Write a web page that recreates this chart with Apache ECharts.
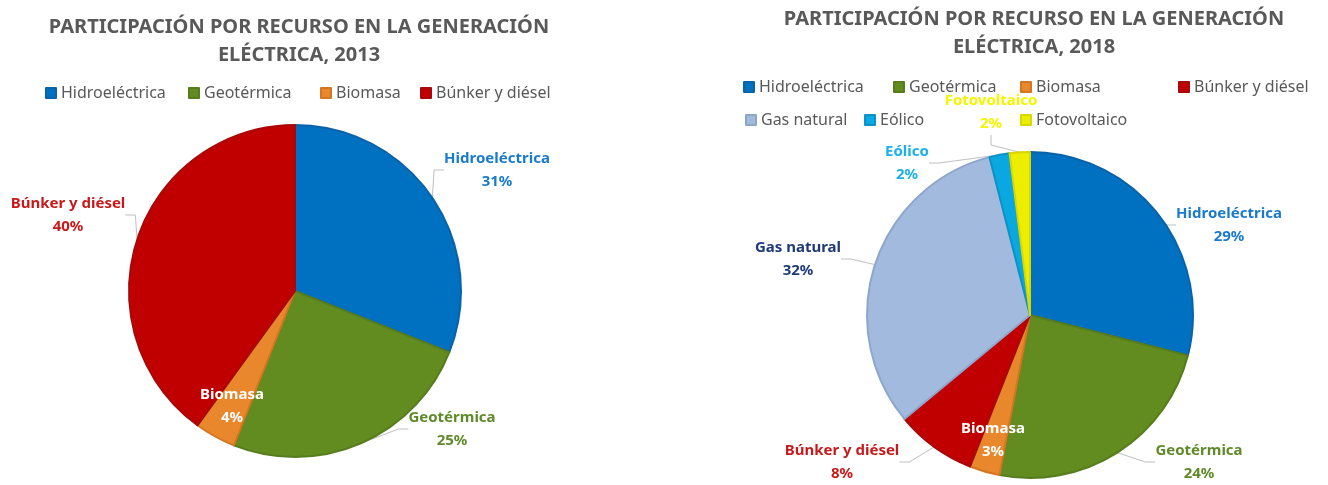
<!DOCTYPE html>
<html>
<head>
<meta charset="utf-8">
<script src="https://cdn.jsdelivr.net/npm/echarts@6/dist/echarts.min.js"></script>
<style>
  html, body { margin: 0; padding: 0; background: #fff; }
  #chart { width: 1328px; height: 485px; }
</style>
</head>
<body>
<div id="chart"></div>
<script>
// datos (porcentajes de participación)
const recursos2013 = ["Hidroeléctrica", "Geotérmica", "Biomasa", "Búnker y diésel"];
const valores2013 = [31, 25, 4, 40];

const recursos2018 = ["Hidroeléctrica", "Geotérmica", "Biomasa", "Búnker y diésel", "Gas natural", "Eólico", "Fotovoltaico"];
const valores2018 = [29, 24, 3, 8, 32, 2, 2];

const titulo2013 = "PARTICIPACIÓN POR RECURSO EN LA GENERACIÓN\nELÉCTRICA, 2013";
const titulo2018 = "PARTICIPACIÓN POR RECURSO EN LA GENERACIÓN\nELÉCTRICA, 2018";

// estilos por recurso
const colores = {
  "Hidroeléctrica": "#0070C0",
  "Geotérmica": "#628B20",
  "Biomasa": "#E8872C",
  "Búnker y diésel": "#C00000",
  "Gas natural": "#A3BADF",
  "Eólico": "#0AA8E0",
  "Fotovoltaico": "#EDED00"
};
const bordes = {
  "Hidroeléctrica": "#0A62A8",
  "Geotérmica": "#577C1C",
  "Biomasa": "#D47722",
  "Búnker y diésel": "#A80808",
  "Gas natural": "#8EA6CC",
  "Eólico": "#0B93C6",
  "Fotovoltaico": "#D8D800"
};
const coloresEtiqueta = {
  "Hidroeléctrica": "#1B7BCB",
  "Geotérmica": "#5F8A2A",
  "Biomasa": "#ffffff",
  "Búnker y diésel": "#C81A1A",
  "Gas natural": "#1E3A78",
  "Eólico": "#1AB0E8",
  "Fotovoltaico": "#F5F500"
};

// posición de las etiquetas (centro del bloque de texto)
const etiquetas2013 = [[497, 170], [452, 429], [232, 406], [68, 215]];
const etiquetas2018 = [[1229, 225], [1199, 462], [993, 440], [842, 462], [798, 259], [907, 163], [991, 112]];

// posición de cada elemento de leyenda
const leyenda2013 = [[45, 85], [188, 85], [320, 85], [420, 85]];
const leyenda2018 = [[743, 79], [893, 79], [1020, 79], [1178, 79], [745, 112], [864, 112], [1020, 112]];

const fuente = "'Noto Sans', sans-serif";

const armarDatos = (nombres, valores) =>
  nombres.map((n, i) => ({
    name: n,
    value: valores[i],
    itemStyle: { color: colores[n], borderColor: bordes[n], borderWidth: 2 },
    label: { color: coloresEtiqueta[n] },
    labelLine: { show: n !== "Biomasa" }
  }));

const estiloTitulo = {
  fontFamily: fuente,
  fontWeight: "bold",
  fontSize: 20,
  color: "#595959",
  lineHeight: 28
};

const estiloLeyenda = {
  fontFamily: fuente,
  fontSize: 16,
  color: "#595959"
};

const armarLeyendas = (nombres, pos) =>
  nombres.map((n, i) => ({
    data: [n],
    left: pos[i][0],
    top: pos[i][1],
    padding: 0,
    itemWidth: 10,
    itemHeight: 10,
    icon: "rect",
    textStyle: estiloLeyenda,
    selectedMode: false
  }));

const serieBase = {
  type: "pie",
  startAngle: 90,
  clockwise: true,
  label: {
    show: true,
    position: "outside",
    formatter: "{b}\n{c}%",
    fontFamily: fuente,
    fontWeight: "bold",
    fontSize: 15,
    lineHeight: 23,
    align: "center",
    overflow: "none"
  },
  labelLine: {
    show: true,
    length: 10,
    length2: 10,
    lineStyle: { color: "#BFBFBF", width: 1 }
  },
  emphasis: { disabled: true },
  animation: false
};

const chartDom = document.getElementById("chart");
const chart = echarts.init(chartDom);

const option = {
  backgroundColor: "#ffffff",
  title: [
    { text: titulo2013, left: 294, top: 8, textAlign: "center", textStyle: estiloTitulo },
    { text: titulo2018, left: 1029, top: 0, textAlign: "center", textStyle: estiloTitulo }
  ],
  legend: armarLeyendas(recursos2013, leyenda2013).concat(armarLeyendas(recursos2018, leyenda2018)),
  series: [
    Object.assign({}, serieBase, {
      center: [295, 291],
      radius: 166,
      data: armarDatos(recursos2013, valores2013),
      labelLayout: (p) => ({
        x: etiquetas2013[p.dataIndex][0],
        y: etiquetas2013[p.dataIndex][1],
        align: "center",
        verticalAlign: "middle"
      })
    }),
    Object.assign({}, serieBase, {
      center: [1030, 315],
      radius: 163,
      data: armarDatos(recursos2018, valores2018),
      labelLayout: (p) => ({
        x: etiquetas2018[p.dataIndex][0],
        y: etiquetas2018[p.dataIndex][1],
        align: "center",
        verticalAlign: "middle"
      })
    })
  ]
};

chart.setOption(option);

window.addEventListener("resize", () => {
  chart.resize();
});
</script>
</body>
</html>
